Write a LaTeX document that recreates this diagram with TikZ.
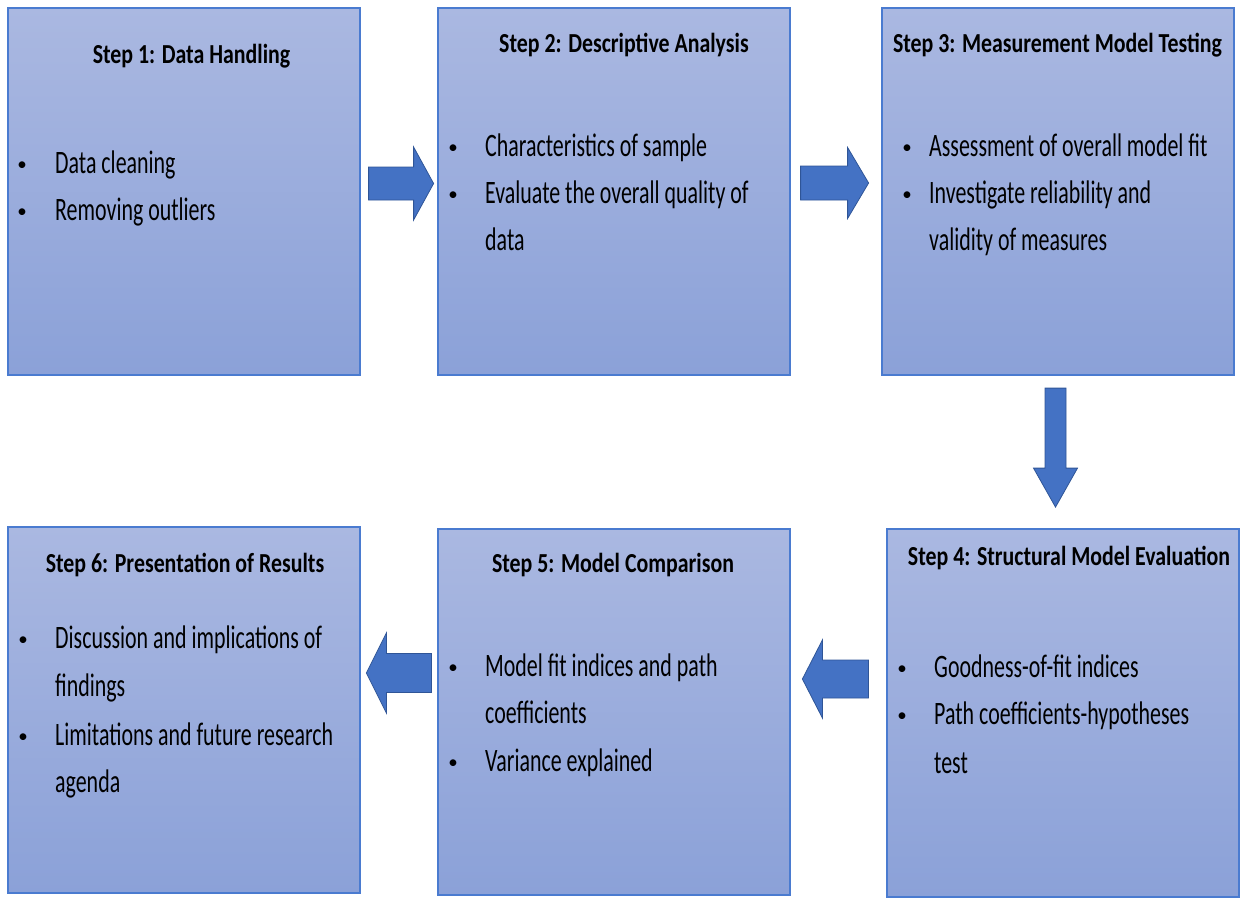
\documentclass[tikz,border=0pt]{standalone}
\usepackage{fontspec}
\setmainfont{Carlito}
\newfontfamily\bodyfont[FakeStretch=0.67]{Carlito}
\newfontfamily\headfont[FakeStretch=0.795]{Carlito}
\definecolor{boxtop}{HTML}{AAB8E1}
\definecolor{boxbot}{HTML}{8BA1D8}
\definecolor{boxline}{HTML}{4A7BD0}
\definecolor{arrfill}{HTML}{4472C4}
\definecolor{arredge}{HTML}{2F5597}
\tikzset{
  stepbox/.style={draw=boxline, line width=1.2pt, top color=boxtop, bottom color=boxbot,
    minimum width=352pt, inner sep=0pt},
  steptitle/.style={anchor=base, inner sep=0pt, font={\headfont\bfseries\fontsize{27.5pt}{32pt}\selectfont}},
  itemline/.style={anchor=base west, inner sep=0pt, font={\bodyfont\fontsize{32.7pt}{40pt}\selectfont}},
  bulletmark/.style={anchor=base, inner sep=0pt, font={\fontsize{19pt}{24pt}\selectfont}},
  arrowshape/.style={fill=arrfill, draw=arredge, line width=0.8pt, line join=miter},
  pics/blockarr/.style args={#1/#2/#3/#4}{code={%
    \path[arrowshape] (0,-#2/2) -- (#1-#4,-#2/2) -- (#1-#4,-#3/2) -- (#1,0)
      -- (#1-#4,#3/2) -- (#1-#4,#2/2) -- (0,#2/2) -- cycle;}}
}
% item: name, bullet x, text x, baseline y, text
\newcommand\stepitem[5]{%
  \node[bulletmark] (#1b) at (#2,#4-3) {\textbullet};
  \node[itemline] (#1) at (#3,#4) {#5};}
% continuation line: name, text x, baseline y, text
\newcommand\stepcont[4]{\node[itemline] (#1) at (#2,#3) {#4};}

\begin{document}
\begin{tikzpicture}[x=1pt,y=-1pt]
\useasboundingbox (0,0) rectangle (1241,898);

% the six step boxes
\node[stepbox, minimum height=367pt] (s1) at (184,191.5) {};
\node[stepbox, minimum height=367pt] (s2) at (614,191.5) {};
\node[stepbox, minimum height=367pt] (s3) at (1058,191.5) {};
\node[stepbox, minimum height=368pt] (s4) at (1063,713) {};
\node[stepbox, minimum height=366pt] (s5) at (614,712) {};
\node[stepbox, minimum height=366pt] (s6) at (184,710) {};

% titles
\node[steptitle] (t1) at (191.5,63) {Step 1: Data Handling};
\node[steptitle] (t2) at (624,52) {Step 2: Descriptive Analysis};
\node[steptitle] (t3) at (1057.5,52) {Step 3: Measurement Model Testing};
\node[steptitle] (t4) at (1069,565) {Step 4: Structural Model Evaluation};
\node[steptitle] (t5) at (613,572) {Step 5: Model Comparison};
\node[steptitle] (t6) at (185,572) {Step 6: Presentation of Results};

% step 1
\stepitem{i11}{22}{55}{173}{Data cleaning}
\stepitem{i12}{22}{55}{220}{Removing outliers}
% step 2
\stepitem{i21}{453}{485}{156}{Characteristics of sample}
\stepitem{i22}{453}{485}{203}{Evaluate the overall quality of}
\stepcont{i22c}{485}{250}{data}
% step 3
\stepitem{i31}{907}{929}{156}{Assessment of overall model fit}
\stepitem{i32}{907}{929}{203}{Investigate reliability and}
\stepcont{i32c}{929}{250}{validity of measures}
% step 4
\stepitem{i41}{902}{934}{677}{Goodness-of-fit indices}
\stepitem{i42}{902}{934}{724}{Path coefficients-hypotheses}
\stepcont{i42c}{934}{773}{test}
% step 5
\stepitem{i51}{453}{485}{676}{Model fit indices and path}
\stepcont{i51c}{485}{723}{coefficients}
\stepitem{i52}{453}{485}{771}{Variance explained}
% step 6
\stepitem{i61}{23}{55}{648}{Discussion and implications of}
\stepcont{i61c}{55}{696}{findings}
\stepitem{i62}{23}{55}{745}{Limitations and future research}
\stepcont{i62c}{55}{792}{agenda}

% block arrows between the steps
\coordinate (a12) at ([xshift=8pt,yshift=8pt]s1.east);
\coordinate (a23) at ([xshift=10pt,yshift=8.5pt]s2.east);
\coordinate (a34) at ([xshift=-2.5pt,yshift=-12.5pt]s3.south);
\coordinate (a45) at ([xshift=-18pt,yshift=34pt]s4.west);
\coordinate (a56) at ([xshift=-6pt,yshift=39pt]s5.west);
\pic at (a12) {blockarr=65/33/73/20};
\pic at (a23) {blockarr=68/34/71/21};
\pic[rotate=-90] at (a34) {blockarr=119/21/44/39};
\pic[rotate=180] at (a45) {blockarr=66/38/78/20};
\pic[rotate=180] at (a56) {blockarr=65/39/80/20};
\end{tikzpicture}
\end{document}
